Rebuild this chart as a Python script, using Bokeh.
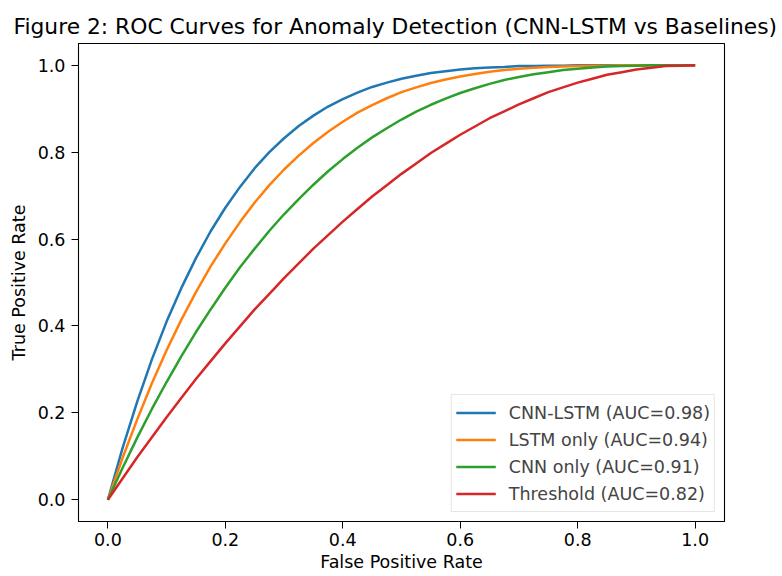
from bokeh.plotting import figure
from bokeh.models import Range1d, Legend, LegendItem, CustomJSTickFormatter
from bokeh.embed import file_html
from bokeh.resources import INLINE

# False positive rate sample points
fpr = [0.000, 0.025, 0.050, 0.075, 0.100, 0.125, 0.150, 0.175, 0.200, 0.225,
       0.250, 0.275, 0.300, 0.325, 0.350, 0.375, 0.400, 0.425, 0.450, 0.475,
       0.500, 0.525, 0.550, 0.575, 0.600, 0.625, 0.650, 0.675, 0.700, 0.725,
       0.750, 0.775, 0.800, 0.825, 0.850, 0.875, 0.900, 0.925, 0.950, 0.975, 1.000]

# True positive rate for each model
tpr_cnn_lstm = [0.000, 0.119, 0.226, 0.323, 0.410, 0.487, 0.556, 0.618, 0.672, 0.720,
                0.763, 0.800, 0.832, 0.860, 0.884, 0.905, 0.922, 0.937, 0.950, 0.960,
                0.969, 0.976, 0.982, 0.986, 0.990, 0.993, 0.995, 0.996, 0.998, 0.998,
                0.999, 0.999, 1.000, 1.000, 1.000, 1.000, 1.000, 1.000, 1.000, 1.000, 1.000]
tpr_lstm = [0.000, 0.096, 0.185, 0.268, 0.344, 0.414, 0.478, 0.537, 0.590, 0.639,
            0.684, 0.724, 0.760, 0.792, 0.821, 0.847, 0.870, 0.891, 0.908, 0.924,
            0.938, 0.949, 0.959, 0.967, 0.974, 0.980, 0.985, 0.989, 0.992, 0.994,
            0.996, 0.997, 0.998, 0.999, 0.999, 1.000, 1.000, 1.000, 1.000, 1.000, 1.000]
tpr_cnn = [0.000, 0.073, 0.143, 0.209, 0.271, 0.330, 0.386, 0.438, 0.488, 0.535,
           0.578, 0.619, 0.657, 0.692, 0.725, 0.756, 0.784, 0.810, 0.834, 0.855,
           0.875, 0.893, 0.909, 0.923, 0.936, 0.947, 0.957, 0.966, 0.973, 0.979,
           0.984, 0.989, 0.992, 0.995, 0.997, 0.998, 0.999, 1.000, 1.000, 1.000, 1.000]
tpr_threshold = [0.000, 0.049, 0.098, 0.144, 0.190, 0.234, 0.278, 0.319, 0.360, 0.399,
                 0.438, 0.474, 0.510, 0.544, 0.578, 0.609, 0.640, 0.669, 0.698, 0.724,
                 0.750, 0.774, 0.798, 0.819, 0.840, 0.859, 0.878, 0.894, 0.910, 0.924,
                 0.938, 0.949, 0.960, 0.969, 0.978, 0.984, 0.990, 0.994, 0.998, 0.999, 1.000]

labels = ["CNN-LSTM (AUC=0.98)", "LSTM only (AUC=0.94)", "CNN only (AUC=0.91)", "Threshold (AUC=0.82)"]
series = [tpr_cnn_lstm, tpr_lstm, tpr_cnn, tpr_threshold]
colors = ["#1f77b4", "#ff7f0e", "#2ca02c", "#d62728"]

x_ticks = [0.0, 0.2, 0.4, 0.6, 0.8, 1.0]
y_ticks = [0.0, 0.2, 0.4, 0.6, 0.8, 1.0]

FONT = "DejaVu Sans"

p = figure(width=782, height=576, output_backend="svg", toolbar_location=None,
           x_range=Range1d(-0.05, 1.05), y_range=Range1d(-0.05, 1.05),
           min_border_left=78, min_border_right=58, min_border_top=43, min_border_bottom=55,
           title="Figure 2: ROC Curves for Anomaly Detection (CNN-LSTM vs Baselines)")

p.title.text_font = FONT
p.title.text_font_size = "21.8px"
p.title.text_font_style = "normal"
p.title.align = "left"
p.title.offset = -65
p.title.text_color = "black"

p.grid.visible = False
p.outline_line_color = "black"
p.outline_line_width = 1.1

fmt = CustomJSTickFormatter(code="return tick.toFixed(1);")
for ax in (p.xaxis[0], p.yaxis[0]):
    ax.major_label_text_font = FONT
    ax.major_label_text_font_size = "17.5px"
    ax.major_label_text_color = "black"
    ax.axis_label_text_font = FONT
    ax.axis_label_text_font_size = "17.5px"
    ax.axis_label_text_font_style = "normal"
    ax.axis_label_text_color = "black"
    ax.minor_tick_line_color = None
    ax.major_tick_in = 0
    ax.major_tick_out = 7
    ax.major_tick_line_color = "black"
    ax.axis_line_color = "black"
    ax.formatter = fmt

p.xaxis[0].ticker = x_ticks
p.yaxis[0].ticker = y_ticks
p.xaxis.axis_label = "False Positive Rate"
p.yaxis.axis_label = "True Positive Rate"
p.xaxis[0].major_label_standoff = 4
p.yaxis[0].major_label_standoff = 6
p.xaxis[0].axis_label_standoff = 3
p.yaxis[0].axis_label_standoff = 6

items = []
for lab, ys, c in zip(labels, series, colors):
    r = p.line(fpr, ys, line_color=c, line_width=2.5)
    items.append(LegendItem(label=lab, renderers=[r]))

legend = Legend(items=items, location="bottom_right")
legend.label_text_font = FONT
legend.label_text_font_size = "17.5px"
legend.glyph_width = 40
legend.glyph_height = 27
legend.label_height = 27
legend.label_standoff = 13
legend.spacing = 0
legend.padding = 4
legend.margin = 9
legend.border_line_color = "#cccccc"
legend.border_line_width = 1
legend.background_fill_alpha = 0.8
p.add_layout(legend, "center")

open("out.html", "w").write(file_html(p, INLINE))
